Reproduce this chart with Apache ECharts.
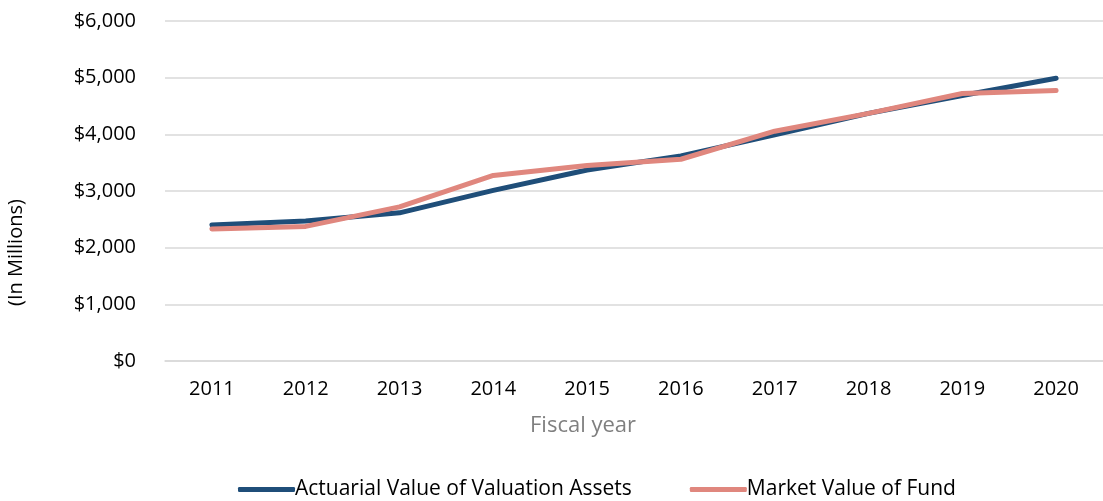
<!DOCTYPE html>
<html>
<head>
<meta charset="utf-8">
<script src="https://cdn.jsdelivr.net/npm/echarts@6/dist/echarts.min.js"></script>
<style>
  html, body { margin: 0; padding: 0; background: #fff; }
  #chart { width: 1103px; height: 501px; }
</style>
</head>
<body>
<div id="chart"></div>
<script>
// fiscal years on the x axis
var years = ['2011', '2012', '2013', '2014', '2015', '2016', '2017', '2018', '2019', '2020'];
// values in millions
var actuarialValue = [2400, 2470, 2615, 3010, 3370, 3620, 3990, 4370, 4685, 4990];
var marketValue = [2330, 2375, 2720, 3275, 3450, 3560, 4055, 4370, 4720, 4775];

var seriesNames = ['Actuarial Value of Valuation Assets', 'Market Value of Fund'];
var fontName = "'Open Sans', sans-serif";

var myChart = echarts.init(document.getElementById('chart'));

var option = {
    animation: false,
    color: ['#1f4e79', '#e0877e'],
    grid: {
        left: 165,
        right: 0,
        top: 21,
        bottom: 140
    },
    legend: {
        data: seriesNames,
        top: 474,
        left: 233,
        itemWidth: 57,
        itemHeight: 5,
        itemGap: 58,
        icon: 'roundRect',
        textStyle: { fontFamily: fontName, fontSize: 21, color: '#000', padding: [0, 0, 0, -5] }
    },
    xAxis: {
        type: 'category',
        data: years,
        axisLine: { lineStyle: { color: '#d9d9d9', width: 1.5 } },
        axisTick: { show: false },
        axisLabel: { fontFamily: fontName, fontSize: 20, color: '#000', margin: 18 }
    },
    yAxis: {
        type: 'value',
        min: 0,
        max: 6000,
        interval: 1000,
        axisLine: { show: false },
        axisTick: { show: false },
        splitLine: { lineStyle: { color: '#d9d9d9', width: 1.5 } },
        axisLabel: {
            fontFamily: fontName,
            fontSize: 20,
            color: '#000',
            margin: 29,
            formatter: function (v) {
                return '$' + v.toLocaleString('en-US');
            }
        }
    },
    graphic: [
        {
            type: 'text',
            left: 530,
            top: 415,
            style: { text: 'Fiscal year', fontFamily: fontName, fontSize: 22, fill: '#7f7f7f' }
        },
        {
            type: 'text',
            x: 6,
            y: 306,
            rotation: Math.PI / 2,
            style: { text: '(In Millions)', fontFamily: fontName, fontSize: 20, fill: '#000' }
        }
    ],
    series: [
        {
            name: seriesNames[0],
            type: 'line',
            data: actuarialValue,
            symbol: 'none',
            lineStyle: { width: 5, cap: 'round', join: 'round' }
        },
        {
            name: seriesNames[1],
            type: 'line',
            data: marketValue,
            symbol: 'none',
            lineStyle: { width: 5, cap: 'round', join: 'round' }
        }
    ]
};

myChart.setOption(option);
</script>
</body>
</html>
